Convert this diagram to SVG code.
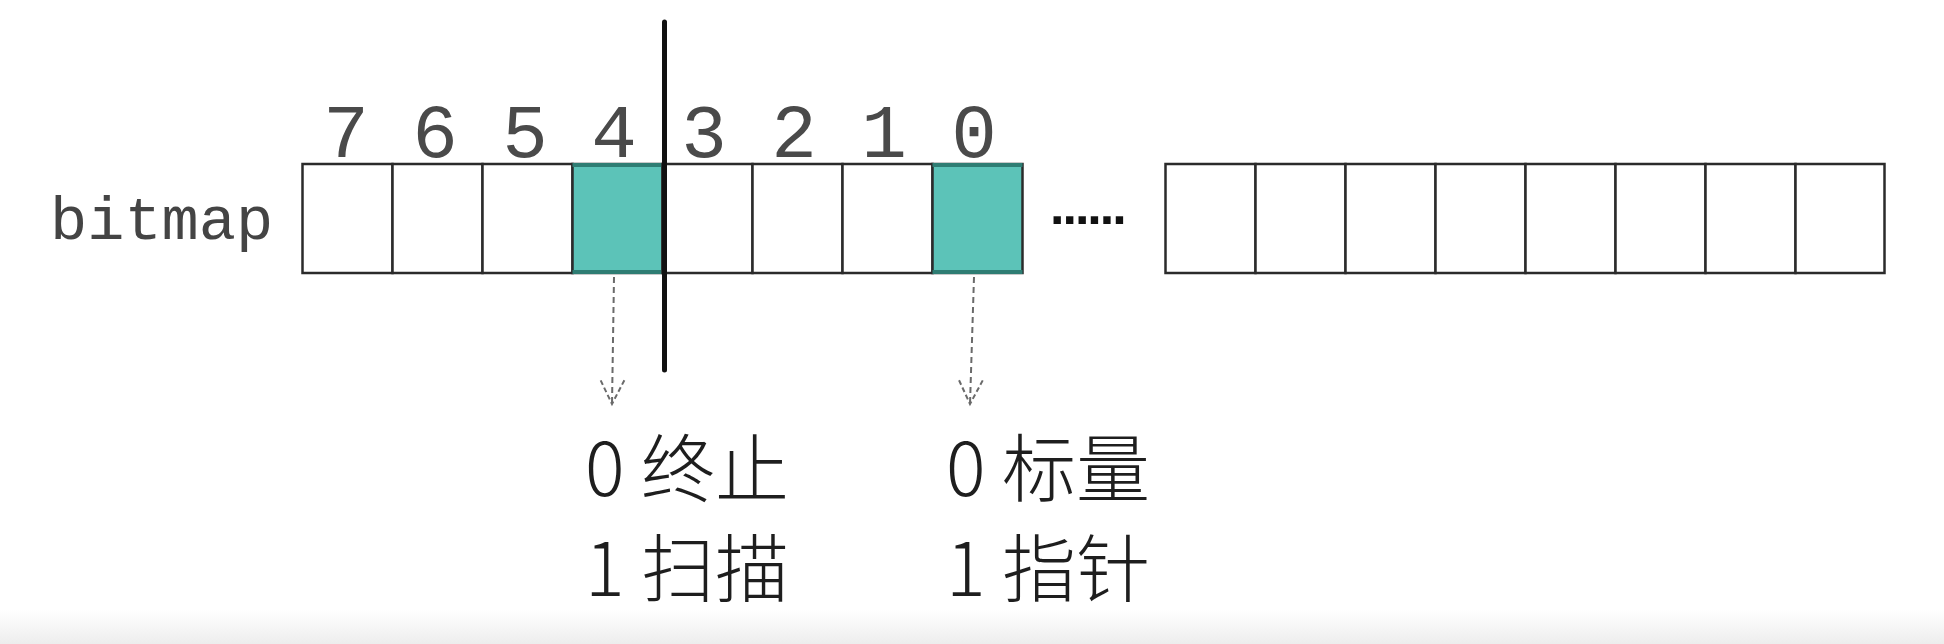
<svg xmlns="http://www.w3.org/2000/svg" width="1944" height="644" viewBox="0 0 1944 644">
<defs>
<style>
.cell{fill:#ffffff;stroke:#2b2b2b;stroke-width:2.5}
.hot{fill:#5cc3b8;stroke:#2b2b2b;stroke-width:2.5}
.hotedge{stroke:#2e7d73;stroke-width:4}
.idx{font-family:"Liberation Mono","DejaVu Sans Mono",monospace;font-size:76px;fill:#4a4a4a;text-anchor:middle}
.lbl{font-family:"Liberation Mono","DejaVu Sans Mono",monospace;font-size:62px;fill:#444444}
.cn{font-family:"Noto Sans CJK SC","Noto Sans",sans-serif;font-size:74px;font-weight:300;fill:#1e1e1e}
.dots{font-family:"Liberation Sans",Arial,sans-serif;font-weight:bold;font-size:52px;fill:#111}
.conn{fill:none;stroke:#6a6a6a;stroke-width:2;stroke-dasharray:6 4}
</style>
<marker id="vhead" markerUnits="userSpaceOnUse" markerWidth="30" markerHeight="30" refX="26" refY="13" orient="auto" viewBox="0 0 30 26">
<path d="M2,1 L26,13 L2,25" fill="none" stroke="#6a6a6a" stroke-width="2" stroke-dasharray="5 3"/>
</marker>
<linearGradient id="fade" x1="0" y1="0" x2="0" y2="1">
<stop offset="0" stop-color="#ffffff"/>
<stop offset="1" stop-color="#ededed"/>
</linearGradient>
</defs>
<rect x="0" y="0" width="1944" height="644" fill="#ffffff"/>
<rect x="0" y="610" width="1944" height="34" fill="url(#fade)"/>

<g id="label-bitmap"><text class="lbl" x="50" y="239">bitmap</text></g>

<g id="bitmap-left">
<g id="cell-7"><rect class="cell" x="302.5" y="164" width="90" height="109"/><text class="idx" x="346" y="157">7</text></g>
<g id="cell-6"><rect class="cell" x="392.5" y="164" width="90" height="109"/><text class="idx" x="435" y="157">6</text></g>
<g id="cell-5"><rect class="cell" x="482.5" y="164" width="90" height="109"/><text class="idx" x="525" y="157">5</text></g>
<g id="cell-4"><rect class="hot" x="572.5" y="164" width="90" height="109"/><line class="hotedge" x1="572.5" y1="165" x2="662.5" y2="165"/><line class="hotedge" x1="572.5" y1="272" x2="662.5" y2="272"/><text class="idx" x="614" y="157">4</text></g>
<g id="cell-3"><rect class="cell" x="662.5" y="164" width="90" height="109"/><text class="idx" x="704" y="157">3</text></g>
<g id="cell-2"><rect class="cell" x="752.5" y="164" width="90" height="109"/><text class="idx" x="794" y="157">2</text></g>
<g id="cell-1"><rect class="cell" x="842.5" y="164" width="90" height="109"/><text class="idx" x="884" y="157">1</text></g>
<g id="cell-0"><rect class="hot" x="932.5" y="164" width="90" height="109"/><line class="hotedge" x1="932.5" y1="165" x2="1022.5" y2="165"/><line class="hotedge" x1="932.5" y1="272" x2="1022.5" y2="272"/><text class="idx" x="974" y="157">0</text></g>
</g>

<g id="ellipsis"><text class="dots" x="1050" y="224" letter-spacing="-2">......</text></g>

<g id="bitmap-right">
<g id="r-cell-1"><rect class="cell" x="1165.5" y="164" width="90" height="109"/></g>
<g id="r-cell-2"><rect class="cell" x="1255.5" y="164" width="90" height="109"/></g>
<g id="r-cell-3"><rect class="cell" x="1345.5" y="164" width="90" height="109"/></g>
<g id="r-cell-4"><rect class="cell" x="1435.5" y="164" width="90" height="109"/></g>
<g id="r-cell-5"><rect class="cell" x="1525.5" y="164" width="90" height="109"/></g>
<g id="r-cell-6"><rect class="cell" x="1615.5" y="164" width="90" height="109"/></g>
<g id="r-cell-7"><rect class="cell" x="1705.5" y="164" width="90" height="109"/></g>
<g id="r-cell-8"><rect class="cell" x="1795.5" y="164" width="89" height="109"/></g>
</g>

<g id="divider"><line x1="664.5" y1="22" x2="664.5" y2="370" stroke="#111111" stroke-width="5" stroke-linecap="round"/></g>

<g id="connectors">
<path class="conn" d="M614,277 L612,404" marker-end="url(#vhead)"/>
<path class="conn" d="M974,277 L970,404" marker-end="url(#vhead)"/>
</g>

<g id="legend-scan">
<text class="cn" x="585" y="496">0 终止</text>
<text class="cn" x="585" y="596">1 扫描</text>
</g>
<g id="legend-pointer">
<text class="cn" x="946" y="496">0 标量</text>
<text class="cn" x="946" y="596">1 指针</text>
</g>
</svg>
